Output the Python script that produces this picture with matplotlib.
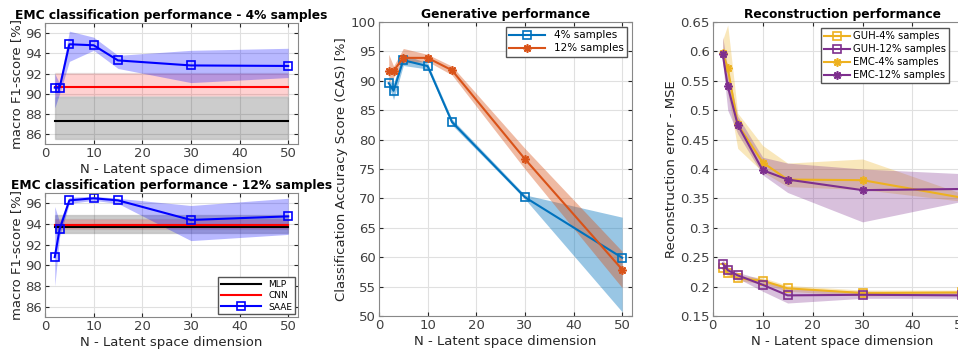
import matplotlib
matplotlib.use("Agg")
import matplotlib.pyplot as plt

# latent space dimensions
dims = [2, 3, 5, 10, 15, 30, 50]

# EMC classification, 4% samples
saae4 = [90.6, 90.6, 94.9, 94.8, 93.3, 92.8, 92.75]
saae4_lo = [88.6, 90.0, 93.2, 94.3, 92.5, 91.1, 91.6]
saae4_hi = [92.0, 91.0, 96.2, 95.6, 93.8, 94.3, 94.5]
mlp4, mlp4_lo, mlp4_hi = 87.3, 85.5, 89.7
cnn4, cnn4_lo, cnn4_hi = 90.7, 89.8, 92.1

# EMC classification, 12% samples
saae12 = [90.8, 93.5, 96.3, 96.5, 96.3, 94.4, 94.75]
saae12_lo = [88.0, 92.8, 96.0, 96.3, 96.0, 92.4, 93.0]
saae12_hi = [95.7, 94.2, 96.6, 96.7, 96.5, 95.8, 96.5]
mlp12, mlp12_lo, mlp12_hi = 93.75, 93.15, 94.85
cnn12, cnn12_lo, cnn12_hi = 93.95, 93.5, 94.5

# generative performance (CAS)
cas4 = [89.6, 88.3, 93.5, 92.5, 83.0, 70.2, 59.9]
cas4_lo = [89.2, 86.8, 92.6, 92.0, 82.5, 69.9, 50.7]
cas4_hi = [90.0, 89.6, 94.5, 93.0, 83.5, 70.6, 66.8]
cas12 = [91.7, 91.7, 93.9, 93.9, 91.8, 76.7, 57.9]
cas12_lo = [89.8, 90.6, 93.0, 93.3, 91.0, 75.0, 54.8]
cas12_hi = [94.5, 92.5, 95.5, 94.5, 92.5, 78.5, 61.0]

# reconstruction error
guh4 = [0.231, 0.223, 0.214, 0.210, 0.197, 0.189, 0.190]
guh4_lo = [0.226, 0.218, 0.210, 0.205, 0.192, 0.184, 0.186]
guh4_hi = [0.236, 0.228, 0.219, 0.215, 0.202, 0.194, 0.194]
guh12 = [0.239, 0.228, 0.219, 0.203, 0.185, 0.186, 0.185]
guh12_lo = [0.232, 0.222, 0.214, 0.192, 0.172, 0.180, 0.180]
guh12_hi = [0.246, 0.234, 0.224, 0.212, 0.196, 0.192, 0.190]
emc4 = [0.597, 0.572, 0.476, 0.411, 0.382, 0.381, 0.351]
emc4_lo = [0.580, 0.530, 0.435, 0.395, 0.370, 0.365, 0.345]
emc4_hi = [0.620, 0.645, 0.495, 0.440, 0.410, 0.417, 0.358]
emc12 = [0.595, 0.541, 0.475, 0.398, 0.382, 0.364, 0.366]
emc12_lo = [0.580, 0.500, 0.460, 0.390, 0.360, 0.310, 0.345]
emc12_hi = [0.625, 0.570, 0.490, 0.420, 0.410, 0.400, 0.392]

BLUE = "#0072BD"
ORANGE = "#D95319"
YELLOW = "#EDB120"
PURPLE = "#7E2F8E"
STAR = (8, 2, 0)  # asterisk like MATLAB '*'

plt.rcParams["font.family"] = "DejaVu Sans"
plt.rcParams["font.size"] = 9.5


def style(ax, xlabel, ylabel, title):
    ax.set_xlabel(xlabel, color="#262626", fontsize=9.5, labelpad=2)
    ax.set_ylabel(ylabel, color="#262626", fontsize=9.5, labelpad=2)
    ax.set_title(title, fontweight="bold", fontsize=8.8, pad=3)
    ax.grid(True, color="#e0e0e0", linewidth=0.8)
    ax.set_axisbelow(True)
    ax.tick_params(direction="in", length=3, colors="#262626", labelcolor="#404040",
                   top=True, right=True, labelsize=9.5, pad=2)
    for s in ax.spines.values():
        s.set_color("#888888")
        s.set_linewidth(0.8)


def classif(ax, saae, lo, hi, mlp, mlp_lo, mlp_hi, cnn, cnn_lo, cnn_hi, title, legend=False):
    x0, x1 = dims[0], dims[-1]
    ax.fill_between([x0, x1], [mlp_lo, mlp_lo], [mlp_hi, mlp_hi], color="black", alpha=0.2,
                    edgecolor="#555555", linewidth=1)
    ax.fill_between([x0, x1], [cnn_lo, cnn_lo], [cnn_hi, cnn_hi], color="red", alpha=0.18,
                    edgecolor="#888888", linewidth=1)
    ax.plot([x0, x1], [mlp, mlp], color="black", lw=1.5, label="MLP")
    ax.plot([x0, x1], [cnn, cnn], color="red", lw=1.5, label="CNN")
    ax.fill_between(dims, lo, hi, color="blue", alpha=0.28, linewidth=0)
    ax.plot(dims, saae, "s-", color="blue", lw=1.5, ms=5.5, mfc="none", mew=1.2, label="SAAE")
    ax.set_xlim(0, 52)
    ax.set_ylim(85, 97)
    ax.set_xticks([0, 10, 20, 30, 40, 50])
    ax.set_yticks([86, 88, 90, 92, 94, 96])
    style(ax, "N - Latent space dimension", "macro F1-score [%]", title)
    if legend:
        ax.legend(loc="lower right", fontsize=6.5, handlelength=4.5, framealpha=1,
                  edgecolor="#555555", fancybox=False, borderaxespad=0.3,
                  labelspacing=0.25, borderpad=0.3)


fig = plt.figure(figsize=(9.58, 3.55), dpi=100)

ax1 = fig.add_axes([0.047, 0.594, 0.264, 0.341])
classif(ax1, saae4, saae4_lo, saae4_hi, mlp4, mlp4_lo, mlp4_hi, cnn4, cnn4_lo, cnn4_hi,
        "EMC classification performance - 4% samples")

ax2 = fig.add_axes([0.047, 0.107, 0.264, 0.349])
classif(ax2, saae12, saae12_lo, saae12_hi, mlp12, mlp12_lo, mlp12_hi, cnn12, cnn12_lo, cnn12_hi,
        "EMC classification performance - 12% samples", legend=True)

# generative performance
ax3 = fig.add_axes([0.3956, 0.110, 0.264, 0.828])
ax3.fill_between(dims, cas4_lo, cas4_hi, color=BLUE, alpha=0.4, linewidth=0)
ax3.fill_between(dims, cas12_lo, cas12_hi, color=ORANGE, alpha=0.4, linewidth=0)
ax3.plot(dims, cas4, "s-", color=BLUE, lw=1.5, ms=5.5, mfc="none", mew=1.2, label="4% samples")
ax3.plot(dims, cas12, "-", marker=STAR, color=ORANGE, lw=1.5, ms=6, mew=1.2, label="12% samples")
ax3.set_xlim(0, 52)
ax3.set_ylim(50, 100)
ax3.set_xticks([0, 10, 20, 30, 40, 50])
ax3.set_yticks(range(50, 101, 5))
style(ax3, "N - Latent space dimension", "Classification Accuracy Score (CAS) [%]",
      "Generative performance")
ax3.legend(loc="upper right", fontsize=7.5, handlelength=3.5, framealpha=1,
           edgecolor="#555555", fancybox=False, labelspacing=0.3, borderpad=0.3)

# reconstruction performance
ax4 = fig.add_axes([0.744, 0.110, 0.271, 0.828])
ax4.fill_between(dims, guh4_lo, guh4_hi, color=YELLOW, alpha=0.3, linewidth=0)
ax4.fill_between(dims, guh12_lo, guh12_hi, color=PURPLE, alpha=0.3, linewidth=0)
ax4.fill_between(dims, emc4_lo, emc4_hi, color=YELLOW, alpha=0.3, linewidth=0)
ax4.fill_between(dims, emc12_lo, emc12_hi, color=PURPLE, alpha=0.3, linewidth=0)
ax4.plot(dims, guh4, "s-", color=YELLOW, lw=1.5, ms=5.5, mfc="none", mew=1.2, label="GUH-4% samples")
ax4.plot(dims, guh12, "s-", color=PURPLE, lw=1.5, ms=5.5, mfc="none", mew=1.2, label="GUH-12% samples")
ax4.plot(dims, emc4, "-", marker=STAR, color=YELLOW, lw=1.5, ms=6, mew=1.2, label="EMC-4% samples")
ax4.plot(dims, emc12, "-", marker=STAR, color=PURPLE, lw=1.5, ms=6, mew=1.2, label="EMC-12% samples")
ax4.set_xlim(0, 52)
ax4.set_ylim(0.15, 0.65)
ax4.set_xticks([0, 10, 20, 30, 40, 50])
ax4.set_yticks([0.15, 0.2, 0.25, 0.3, 0.35, 0.4, 0.45, 0.5, 0.55, 0.6, 0.65])
ax4.set_yticklabels(["0.15", "0.2", "0.25", "0.3", "0.35", "0.4", "0.45", "0.5", "0.55", "0.6", "0.65"])
style(ax4, "N - Latent space dimension", "Reconstruction error - MSE", "Reconstruction performance")
ax4.legend(loc="upper left", bbox_to_anchor=(0.41, 0.985), fontsize=7.2, handlelength=2.6,
           framealpha=1, edgecolor="#555555", fancybox=False, labelspacing=0.3, borderpad=0.3,
           handletextpad=0.3, borderaxespad=0.2)

fig.savefig("out.png", dpi=100)
